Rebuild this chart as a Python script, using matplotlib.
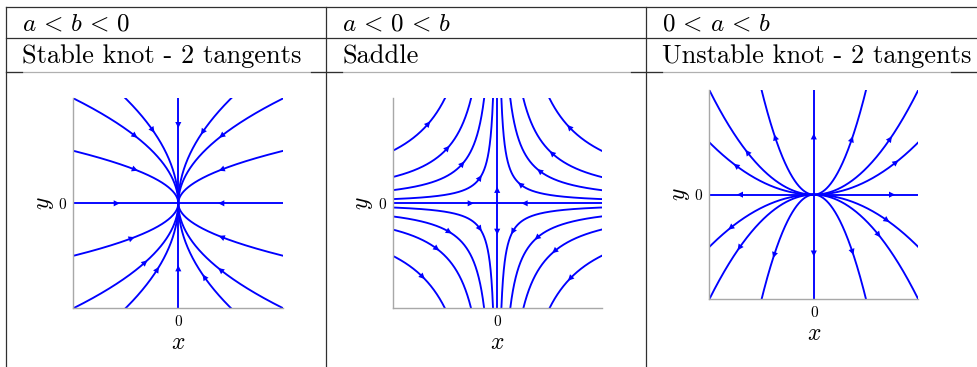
import numpy as np
import matplotlib
matplotlib.use("Agg")
import matplotlib.pyplot as plt
from matplotlib.lines import Line2D

plt.rcParams['mathtext.fontset'] = 'cm'

W, H = 977, 367

# table text
conditions = [r'$a \,<\, b \,<\, 0$', r'$a \,<\, 0 \,<\, b$', r'$0 \,<\, a \,<\, b$']
names = ['Stable knot - 2 tangents', 'Saddle', 'Unstable knot - 2 tangents']

# x' = a*x, y' = b*y for each panel
stable_ab = (-2.0, -1.0)
saddle_ab = (-1.0, 1.0)
unstable_ab = (1.0, 2.0)

# knot curves y = c*|x|**p, saddle curves x*y = c
stable_c = [0.5, 1.0, 1.41]
saddle_c = [0.04, 0.125, 0.25, 0.5]
unstable_c = [0.5, 1.0, 4.0]

# x position of the arrow on each curve, quadrant order UL, UR, LL, LR
stable_arrows = [[-0.413, 0.413, -0.444, 0.413],
                 [-0.413, 0.413, -0.317, 0.403],
                 [-0.244, 0.232, -0.200, 0.248]]
saddle_arrows = [[-0.165, 0.222, -0.165, 0.149],
                 [-0.333, 0.406, -0.460, 0.381],
                 [-0.476, 0.524, -0.578, 0.549],
                 [-0.660, 0.690, -0.714, 0.698]]
unstable_arrows = [[-0.744, 0.786, -0.795, 0.700],
                   [-0.636, 0.730, -0.712, 0.620],
                   [-0.370, 0.364, -0.380, 0.370]]

# arrows on the axes: x positions on y=0, y positions on x=0
stable_axis_x = [-0.587, 0.41]
stable_axis_y = [0.746, -0.62]
saddle_axis_x = [-0.254, 0.263]
saddle_axis_y = [0.127, -0.27]
unstable_axis_x = [-0.706, 0.748]
unstable_axis_y = [0.556, -0.562]

BLUE = '#0000ff'
LW = 1.35
SIGNS = [(-1, 1), (1, 1), (-1, -1), (1, -1)]


def fx(x):
    return x / W


def fy(y):
    return 1 - y / H


def arrow(ax, x, y, ab):
    a, b = ab
    d = np.array([a * x, b * y])
    d = d / np.hypot(*d) * 0.03
    ax.annotate('', xy=(x + d[0], y + d[1]), xytext=(x - d[0], y - d[1]),
                arrowprops=dict(arrowstyle='-|>', color=BLUE, lw=0,
                                mutation_scale=11, shrinkA=0, shrinkB=0))


def setup(ax):
    ax.set_xlim(-1, 1)
    ax.set_ylim(-1, 1)
    for s in ['top', 'right']:
        ax.spines[s].set_visible(False)
    for s in ['left', 'bottom']:
        ax.spines[s].set_color('#a8a8a8')
        ax.spines[s].set_linewidth(1.0)
    ax.set_xticks([0])
    ax.set_yticks([0])
    ax.set_xticklabels(['0'], fontfamily='cmr10', fontsize=11)
    ax.set_yticklabels(['0'], fontfamily='cmr10', fontsize=11)
    ax.tick_params(length=0, pad=5)
    ax.set_xlabel(r'$x$', fontsize=17, labelpad=1)
    ax.set_ylabel(r'$y$', fontsize=17, labelpad=2)


def axis_lines(ax, ab, xs, ys):
    ax.plot([-1, 1], [0, 0], color=BLUE, lw=LW)
    ax.plot([0, 0], [-1, 1], color=BLUE, lw=LW)
    for x in xs:
        arrow(ax, x, 0.0, ab)
    for y in ys:
        arrow(ax, 0.0, y, ab)


def knot(ax, ab, cs, arrows, ax_x, ax_y):
    a, b = ab
    p = b / a
    t = np.linspace(0, 1, 400)
    for c, xa in zip(cs, arrows):
        for (sx, sy), x0 in zip(SIGNS, xa):
            ax.plot(sx * t, sy * c * t ** p, color=BLUE, lw=LW)
            arrow(ax, x0, sy * c * abs(x0) ** p, ab)
    axis_lines(ax, ab, ax_x, ax_y)


def saddle(ax, ab, cs, arrows, ax_x, ax_y):
    for c, xa in zip(cs, arrows):
        t = np.geomspace(c, 1, 400)
        for (sx, sy), x0 in zip(SIGNS, xa):
            ax.plot(sx * t, sy * c / t, color=BLUE, lw=LW)
            arrow(ax, x0, sy * c / abs(x0), ab)
    axis_lines(ax, ab, ax_x, ax_y)


fig = plt.figure(figsize=(W / 100, H / 100), dpi=100)

# plot panels, positions in pixels (left, top, width, height)
boxes = [(73.3, 98.3, 210, 210), (392.7, 98.3, 209, 210), (709.3, 90, 209, 209.3)]
axs = []
for l, t, w, h in boxes:
    axs.append(fig.add_axes([fx(l), fy(t + h), w / W, h / H]))

setup(axs[0])
knot(axs[0], stable_ab, stable_c, stable_arrows, stable_axis_x, stable_axis_y)
setup(axs[1])
saddle(axs[1], saddle_ab, saddle_c, saddle_arrows, saddle_axis_x, saddle_axis_y)
setup(axs[2])
knot(axs[2], unstable_ab, unstable_c, unstable_arrows, unstable_axis_x, unstable_axis_y)

# table grid
dark = '#303030'
for y in [6.5, 38.3]:
    fig.add_artist(Line2D([fx(6), 1], [fy(y), fy(y)], color=dark, lw=0.9))
fig.add_artist(Line2D([fx(6), 1], [fy(71.7), fy(71.7)], color='#b0b0b0', lw=0.9))
for x0, x1 in [(6, 22), (311, 342), (631, 662), (951, 977)]:
    fig.add_artist(Line2D([fx(x0), fx(x1)], [fy(71.7), fy(71.7)], color=dark, lw=0.9))
for x in [6, 326, 646]:
    fig.add_artist(Line2D([fx(x), fx(x)], [fy(6.5), 0], color=dark, lw=0.9))

# header texts
for x, cond, name in zip([22, 342, 662], conditions, names):
    fig.text(fx(x), fy(30.5), cond, fontsize=18, va='baseline')
    fig.text(fx(x), fy(63.5), name, fontsize=19, fontfamily='cmr10', va='baseline')

fig.savefig('out.png', dpi=100)
